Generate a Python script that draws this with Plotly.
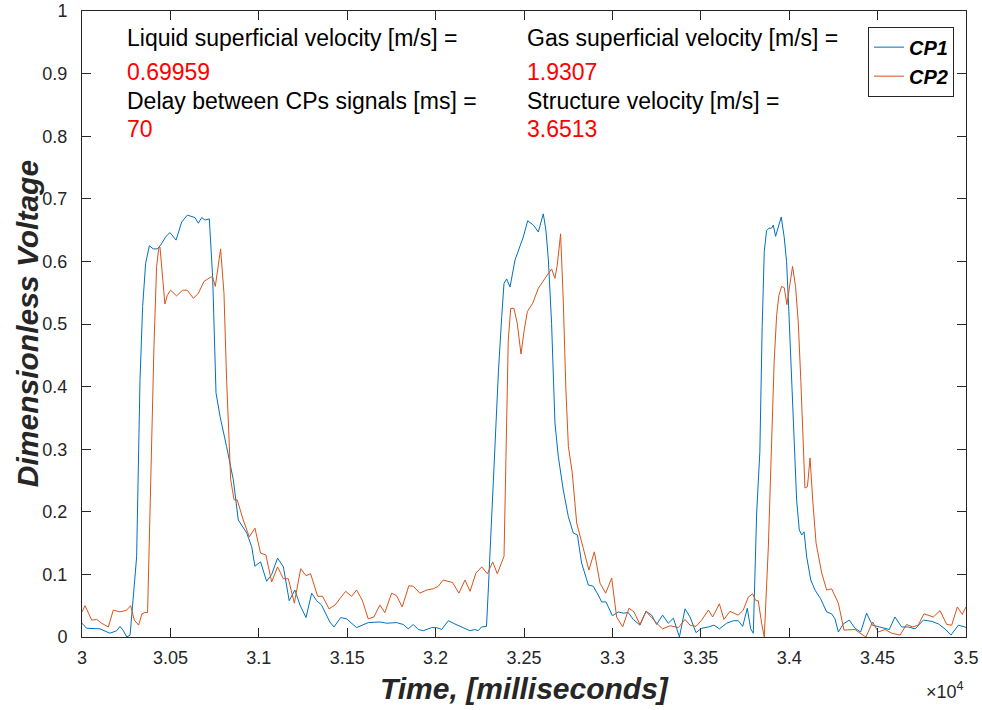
import plotly.graph_objects as go

# ---------------- data ----------------
cp1_t = [30000, 30026, 30102, 30158, 30196, 30215, 30234, 30253, 30272, 30290, 30309, 30328, 30343, 30360,
         30381, 30403, 30426, 30445, 30475, 30498, 30532, 30564, 30596, 30639, 30658, 30677, 30696, 30720,
         30739, 30758, 30781, 30818, 30856, 30884, 30932, 30960, 30978, 31010, 31044, 31073, 31106, 31139,
         31172, 31204, 31233, 31267, 31299, 31327, 31355, 31402, 31425, 31463, 31497, 31553, 31619, 31685,
         31723, 31779, 31817, 31845, 31874, 31902, 31930, 31977, 32006, 32034, 32072, 32100, 32156, 32194,
         32222, 32241, 32260, 32288, 32298, 32327, 32355, 32374, 32387, 32402, 32421, 32449, 32477, 32496,
         32521, 32553, 32581, 32609, 32624, 32638, 32656, 32675, 32694, 32722, 32751, 32779, 32802, 32826,
         32864, 32892, 32920, 32939, 32964, 33000, 33033, 33062, 33090, 33118, 33156, 33190, 33222, 33250,
         33284, 33316, 33345, 33363, 33379, 33411, 33439, 33473, 33505, 33543, 33575, 33605, 33646, 33684,
         33712, 33737, 33763, 33782, 33797, 33816, 33834, 33847, 33859, 33872, 33885, 33900, 33910, 33923,
         33938, 33955, 33972, 33985, 33998, 34013, 34028, 34042, 34057, 34071, 34084, 34099, 34122, 34146,
         34178, 34212, 34240, 34259, 34278, 34306, 34340, 34372, 34404, 34438, 34470, 34514, 34566, 34598,
         34636, 34674, 34712, 34759, 34806, 34843, 34881, 34915, 34957, 34994, 35000]
cp1_v = [0.022, 0.014, 0.013, 0.006, 0.010, 0.017, 0.010, 0.000, 0.003, 0.064, 0.128, 0.410, 0.528, 0.597,
         0.625, 0.620, 0.620, 0.626, 0.640, 0.646, 0.634, 0.663, 0.674, 0.670, 0.661, 0.670, 0.666, 0.668,
         0.575, 0.390, 0.352, 0.304, 0.251, 0.187, 0.166, 0.144, 0.113, 0.120, 0.089, 0.100, 0.126, 0.112,
         0.058, 0.075, 0.051, 0.031, 0.070, 0.058, 0.051, 0.024, 0.016, 0.031, 0.029, 0.015, 0.023, 0.024,
         0.022, 0.023, 0.020, 0.013, 0.020, 0.012, 0.010, 0.015, 0.015, 0.012, 0.026, 0.022, 0.015, 0.010,
         0.012, 0.010, 0.016, 0.017, 0.075, 0.262, 0.422, 0.512, 0.565, 0.572, 0.559, 0.602, 0.623, 0.639,
         0.665, 0.658, 0.647, 0.676, 0.650, 0.602, 0.501, 0.342, 0.288, 0.235, 0.192, 0.166, 0.163, 0.118,
         0.083, 0.081, 0.067, 0.056, 0.056, 0.034, 0.040, 0.038, 0.039, 0.028, 0.019, 0.041, 0.035, 0.020,
         0.035, 0.022, 0.030, 0.015, 0.000, 0.045, 0.032, 0.007, 0.014, 0.016, 0.019, 0.013, 0.022, 0.026,
         0.026, 0.017, 0.046, 0.013, 0.006, 0.198, 0.296, 0.494, 0.616, 0.649, 0.653, 0.653, 0.658, 0.640,
         0.655, 0.671, 0.638, 0.600, 0.520, 0.408, 0.296, 0.219, 0.171, 0.163, 0.168, 0.128, 0.091, 0.075,
         0.061, 0.040, 0.037, 0.029, 0.008, 0.021, 0.027, 0.014, 0.008, 0.038, 0.019, 0.016, 0.012, 0.032,
         0.016, 0.016, 0.013, 0.027, 0.025, 0.021, 0.013, 0.003, 0.019, 0.016, 0.015]

cp2_t = [30000, 30017, 30055, 30083, 30111, 30149, 30177, 30215, 30253, 30275, 30296, 30320, 30339, 30356,
         30371, 30388, 30407, 30422, 30435, 30441, 30454, 30469, 30483, 30501, 30535, 30569, 30596, 30630,
         30658, 30690, 30728, 30739, 30754, 30784, 30803, 30818, 30841, 30860, 30878, 30912, 30946, 30978,
         31010, 31040, 31073, 31106, 31139, 31167, 31201, 31237, 31267, 31293, 31333, 31361, 31397, 31431,
         31491, 31525, 31553, 31585, 31619, 31651, 31685, 31713, 31751, 31779, 31811, 31849, 31874, 31911,
         31949, 31987, 32015, 32043, 32096, 32132, 32166, 32195, 32228, 32261, 32293, 32323, 32349, 32374,
         32387, 32398, 32411, 32425, 32443, 32462, 32483, 32500, 32519, 32549, 32581, 32619, 32656, 32675,
         32688, 32707, 32722, 32737, 32751, 32773, 32798, 32835, 32867, 32898, 32930, 32962, 32996, 33024,
         33058, 33094, 33122, 33156, 33190, 33222, 33250, 33284, 33326, 33373, 33411, 33439, 33473, 33505,
         33543, 33567, 33605, 33631, 33665, 33712, 33740, 33769, 33793, 33812, 33825, 33844, 33859, 33882,
         33898, 33915, 33929, 33942, 33957, 33972, 33987, 34004, 34019, 34036, 34051, 34066, 34079, 34089,
         34103, 34118, 34133, 34152, 34184, 34212, 34240, 34278, 34310, 34340, 34372, 34401, 34434, 34472,
         34504, 34542, 34580, 34627, 34664, 34698, 34730, 34762, 34815, 34853, 34891, 34919, 34951, 34979,
         35000]
cp2_v = [0.040, 0.050, 0.027, 0.028, 0.022, 0.016, 0.043, 0.040, 0.043, 0.050, 0.027, 0.019, 0.037, 0.039,
         0.039, 0.251, 0.464, 0.592, 0.623, 0.623, 0.576, 0.532, 0.546, 0.554, 0.545, 0.554, 0.554, 0.541,
         0.549, 0.568, 0.575, 0.575, 0.560, 0.620, 0.549, 0.410, 0.251, 0.219, 0.219, 0.187, 0.160, 0.174,
         0.134, 0.131, 0.088, 0.112, 0.093, 0.093, 0.054, 0.109, 0.098, 0.101, 0.065, 0.065, 0.045, 0.051,
         0.073, 0.065, 0.075, 0.059, 0.029, 0.032, 0.051, 0.039, 0.070, 0.066, 0.048, 0.082, 0.081, 0.070,
         0.075, 0.077, 0.081, 0.091, 0.087, 0.070, 0.091, 0.073, 0.102, 0.112, 0.101, 0.120, 0.101, 0.121,
         0.129, 0.288, 0.474, 0.525, 0.525, 0.501, 0.452, 0.488, 0.520, 0.533, 0.557, 0.573, 0.588, 0.573,
         0.594, 0.644, 0.538, 0.395, 0.304, 0.262, 0.182, 0.142, 0.107, 0.136, 0.086, 0.070, 0.094, 0.032,
         0.016, 0.046, 0.040, 0.020, 0.041, 0.031, 0.022, 0.013, 0.018, 0.015, 0.028, 0.019, 0.017, 0.027,
         0.043, 0.032, 0.053, 0.028, 0.041, 0.035, 0.043, 0.064, 0.069, 0.058, 0.058, 0.022, 0.000, 0.144,
         0.296, 0.440, 0.514, 0.546, 0.560, 0.558, 0.531, 0.568, 0.592, 0.560, 0.504, 0.408, 0.296, 0.238,
         0.240, 0.286, 0.219, 0.150, 0.102, 0.075, 0.077, 0.054, 0.011, 0.012, 0.012, 0.006, 0.000, 0.024,
         0.008, 0.012, 0.006, 0.003, 0.020, 0.016, 0.019, 0.037, 0.032, 0.042, 0.020, 0.019, 0.048, 0.036,
         0.048]

x_tick_vals = [30000, 30500, 31000, 31500, 32000, 32500, 33000, 33500, 34000, 34500, 35000]
x_tick_text = ["3", "3.05", "3.1", "3.15", "3.2", "3.25", "3.3", "3.35", "3.4", "3.45", "3.5"]
series_names = ["CP1", "CP2"]

info_labels = ["Liquid superficial velocity [m/s] =", "Delay between CPs signals [ms] =",
               "Gas superficial velocity [m/s] =", "Structure velocity [m/s] ="]
info_values = ["0.69959", "70", "1.9307", "3.6513"]

# ---------------- figure ----------------
BLUE = "#0072BD"
ORANGE = "#D95319"
AX = "#262626"
FONT = "Arial, Liberation Sans, Helvetica, sans-serif"

fig = go.Figure()
fig.add_trace(go.Scatter(x=cp1_t, y=cp1_v, mode="lines", name=series_names[0],
                         line=dict(color=BLUE, width=1)))
fig.add_trace(go.Scatter(x=cp2_t, y=cp2_v, mode="lines", name=series_names[1],
                         line=dict(color=ORANGE, width=1)))

fig.update_layout(
    width=982, height=710,
    margin=dict(l=82, r=16, t=11, b=73, autoexpand=False),
    paper_bgcolor="white", plot_bgcolor="white",
    font=dict(family=FONT, size=18, color=AX),
    showlegend=True,
    legend=dict(x=0.9864, y=0.975, xanchor="right", yanchor="top",
                bgcolor="white", bordercolor=AX, borderwidth=1,
                font=dict(family=FONT, size=20, color="black", weight="bold", style="italic"),
                tracegroupgap=0, itemwidth=30),
    xaxis=dict(range=[30000, 35000], tickvals=x_tick_vals, ticktext=x_tick_text,
               ticks="inside", ticklen=9, tickcolor=AX, showline=True, linecolor=AX, linewidth=1,
               mirror="ticks", showgrid=False, zeroline=False, automargin=False,
               tickfont=dict(family=FONT, size=18, color=AX), ticklabelstandoff=4),
    yaxis=dict(range=[0, 1], dtick=0.1, tick0=0,
               ticks="inside", ticklen=9, tickcolor=AX, showline=True, linecolor=AX, linewidth=1,
               mirror="ticks", showgrid=False, zeroline=False, automargin=False,
               tickfont=dict(family=FONT, size=18, color=AX), ticklabelstandoff=10),
)

annos = []
# axis titles
annos.append(dict(text="Time, [milliseconds]", xref="paper", yref="paper", x=0.5, y=-0.083,
                  xanchor="center", yanchor="middle", showarrow=False,
                  font=dict(family=FONT, size=30, color=AX, weight="bold", style="italic")))
annos.append(dict(text="Dimensionless Voltage", xref="paper", yref="paper", x=-0.062, y=0.5,
                  xanchor="center", yanchor="middle", showarrow=False, textangle=-90,
                  font=dict(family=FONT, size=30, color=AX, weight="bold", style="italic")))
annos.append(dict(text="×10<sup>4</sup>", xref="paper", yref="paper", x=1.0, y=-0.085,
                  xanchor="right", yanchor="middle", showarrow=False,
                  font=dict(family=FONT, size=18, color=AX)))
# info texts
col_x = [0.0486, 0.0486, 0.501, 0.501]
lab_y = [0.957, 0.856, 0.957, 0.856]
val_y = [0.903, 0.812, 0.903, 0.812]
for lbl, val, cx, ly, vy in zip(info_labels, info_values, col_x, lab_y, val_y):
    annos.append(dict(text=lbl, xref="paper", yref="paper", x=cx, y=ly, xanchor="left",
                      yanchor="middle", showarrow=False, font=dict(family=FONT, size=23, color="black")))
    annos.append(dict(text=val, xref="paper", yref="paper", x=cx, y=vy, xanchor="left",
                      yanchor="middle", showarrow=False, font=dict(family=FONT, size=23, color="#FF0000")))
fig.update_layout(annotations=annos)

fig.write_html("out.html")
